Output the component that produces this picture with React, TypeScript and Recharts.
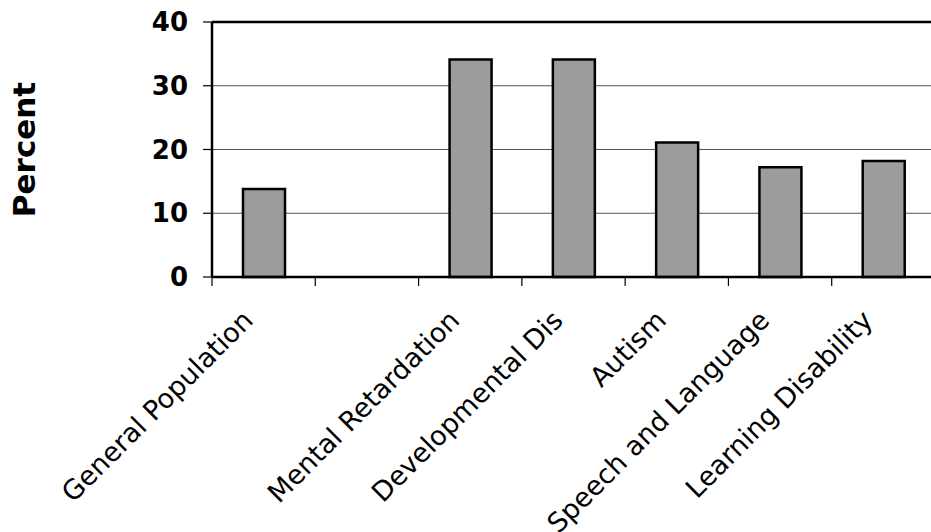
import React from 'react'
import {
    BarChart,
    Bar,
    XAxis,
    YAxis,
    CartesianGrid,
    ReferenceLine,
} from 'recharts'

const categories = [
    'General Population',
    '',
    'Mental Retardation',
    'Developmental Dis',
    'Autism',
    'Speech and Language',
    'Learning Disability',
]
const percents: (number | null)[] = [13.8, null, 34.1, 34.1, 21.1, 17.2, 18.2]
const yTicks = [0, 10, 20, 30, 40]

const data = categories.map((name, i) => ({ name, value: percents[i] }))

const CHART_W = 960
const CHART_H = 532
const LEFT = 212
const RIGHT = 25
const BAND = (CHART_W - LEFT - RIGHT) / categories.length
const FONT = '"DejaVu Sans", Verdana, sans-serif'

function CategoryTick(props: any) {
    const { x, y, payload } = props
    const bx = x - BAND / 2
    const ax = x - 9
    const ay = y + 45
    return (
        <g>
            <line x1={bx} y1={y} x2={bx} y2={y + 9} stroke="#000" strokeWidth={1.2} />
            <text
                x={ax}
                y={ay}
                textAnchor="end"
                transform={`rotate(-45 ${ax} ${ay})`}
                fontFamily={FONT}
                fontSize={27}
                fill="#000"
            >
                {payload.value}
            </text>
        </g>
    )
}

function PercentLabel(props: any) {
    const vb = props.viewBox || { x: 0, y: 22, width: LEFT, height: 255 }
    const cx = 24
    const cy = vb.y + vb.height / 2
    return (
        <text
            x={cx}
            y={cy}
            textAnchor="middle"
            dominantBaseline="central"
            transform={`rotate(-90 ${cx} ${cy})`}
            fontFamily={FONT}
            fontWeight="bold"
            fontSize={31}
            fill="#000"
        >
            Percent
        </text>
    )
}

export default function App() {
    return (
        <div
            style={{
                position: 'absolute',
                left: 0,
                top: 0,
                width: 931,
                height: 532,
                overflow: 'hidden',
                background: '#fff',
            }}
        >
            <BarChart
                width={CHART_W}
                height={CHART_H}
                data={data}
                margin={{ top: 22, right: RIGHT, bottom: 0, left: 0 }}
            >
                <CartesianGrid vertical={false} stroke="#555" strokeWidth={1} />
                <XAxis
                    dataKey="name"
                    interval={0}
                    height={255}
                    tickLine={false}
                    tickSize={0}
                    tickMargin={0}
                    axisLine={{ stroke: '#000', strokeWidth: 2.5 }}
                    tick={<CategoryTick />}
                />
                <YAxis
                    width={LEFT}
                    domain={[0, 40]}
                    ticks={yTicks}
                    interval={0}
                    tickSize={9}
                    tickMargin={15}
                    tickLine={{ stroke: '#000', strokeWidth: 1.2 }}
                    axisLine={{ stroke: '#000', strokeWidth: 2.5 }}
                    tick={{ fill: '#000', fontSize: 26, fontWeight: 'bold', fontFamily: FONT }}
                    label={{ content: <PercentLabel /> }}
                />
                <ReferenceLine y={40} stroke="#000" strokeWidth={2.5} />
                <Bar
                    dataKey="value"
                    barSize={42}
                    fill="#9c9c9c"
                    stroke="#000"
                    strokeWidth={2.5}
                    isAnimationActive={false}
                />
            </BarChart>
        </div>
    )
}
